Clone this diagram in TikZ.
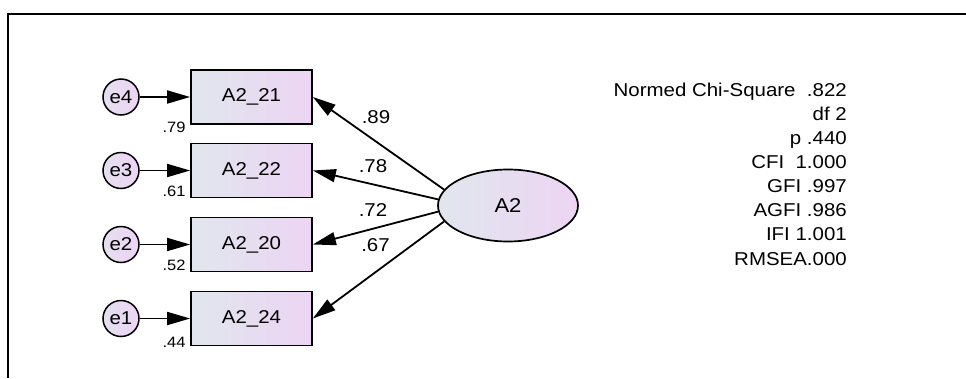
\documentclass[tikz,border=0pt]{standalone}
\usepackage{fontspec}
\newfontfamily\amos{Liberation Sans}[FakeStretch=1.1]
\usetikzlibrary{arrows.meta,shapes.geometric}
\definecolor{gl}{RGB}{225,230,238}
\definecolor{gr}{RGB}{236,213,243}
\tikzset{
  every node/.style={font=\amos\fontsize{18.6}{22}\selectfont},
  obs/.style={draw=black,line width=1.7pt,rectangle,minimum width=121pt,minimum height=54pt,inner sep=0pt,left color=gl,right color=gr},
  err/.style={draw=black,line width=1.5pt,circle,minimum size=36pt,inner sep=0pt,left color=gl!60!gr,right color=gr},
  lat/.style={draw=black,line width=1.7pt,ellipse,minimum width=140pt,minimum height=72pt,inner sep=0pt,left color=gl,right color=gr,font=\amos\fontsize{20}{22}\selectfont},
  path/.style={line width=1.8pt,-{Triangle[length=23pt,width=13pt]}},
  lbl/.style={inner sep=0pt},
  vlbl/.style={inner sep=0pt,font=\amos\fontsize{15}{16}\selectfont},
  fit/.style={inner sep=0pt,anchor=base east},
  frame/.style={line width=2pt}
}
\begin{document}
\begin{tikzpicture}[x=1pt,y=-1pt]
\useasboundingbox (0,0) rectangle (966,378);
\coordinate (fa) at (966,14);
\coordinate (fb) at (8,14);
\coordinate (fc) at (8,378);
\draw[frame] (fa) -- (fb) -- (fc);

\node[obs] (b21) at (251.5,97) {A2\_21};
\node[obs] (b22) at (251.5,170.5) {A2\_22};
\node[obs] (b20) at (251.5,244.5) {A2\_20};
\node[obs] (b24) at (251.5,318.5) {A2\_24};

\node[err] (e4) at (121,97) {e4};
\node[err] (e3) at (121,170.5) {e3};
\node[err] (e2) at (121,244.5) {e2};
\node[err] (e1) at (121,318.5) {e1};

\node[lat] (A2) at (508,205.5) {A2};

\draw[path] (e4) -- (b21);
\draw[path] (e3) -- (b22);
\draw[path] (e2) -- (b20);
\draw[path] (e1) -- (b24);

\draw[path] (A2.166) -- (b21.east);
\draw[path] (A2.175) -- (b22.east);
\draw[path] (A2.185) -- (b20.east);
\draw[path] (A2.194) -- (b24.east);

\node[lbl] (l21) at (376,117.5) {.89};
\node[lbl] (l22) at (373,166) {.78};
\node[lbl] (l20) at (373,210.5) {.72};
\node[lbl] (l24) at (375.5,245) {.67};

\node[vlbl] (v21) at (174,127) {.79};
\node[vlbl] (v22) at (174,191) {.61};
\node[vlbl] (v20) at (174,265) {.52};
\node[vlbl] (v24) at (174,342.5) {.44};

\node[fit] (f1) at (847,96) {Normed Chi-Square\ \ .822};
\node[fit] (f2) at (847,120) {df 2};
\node[fit] (f3) at (847,144) {p .440};
\node[fit] (f4) at (847,168) {CFI\ \ 1.000};
\node[fit] (f5) at (847,192) {GFI .997};
\node[fit] (f6) at (847,216) {AGFI .986};
\node[fit] (f7) at (847,240) {IFI 1.001};
\node[fit] (f8) at (847,265) {RMSEA.000};
\end{tikzpicture}
\end{document}
